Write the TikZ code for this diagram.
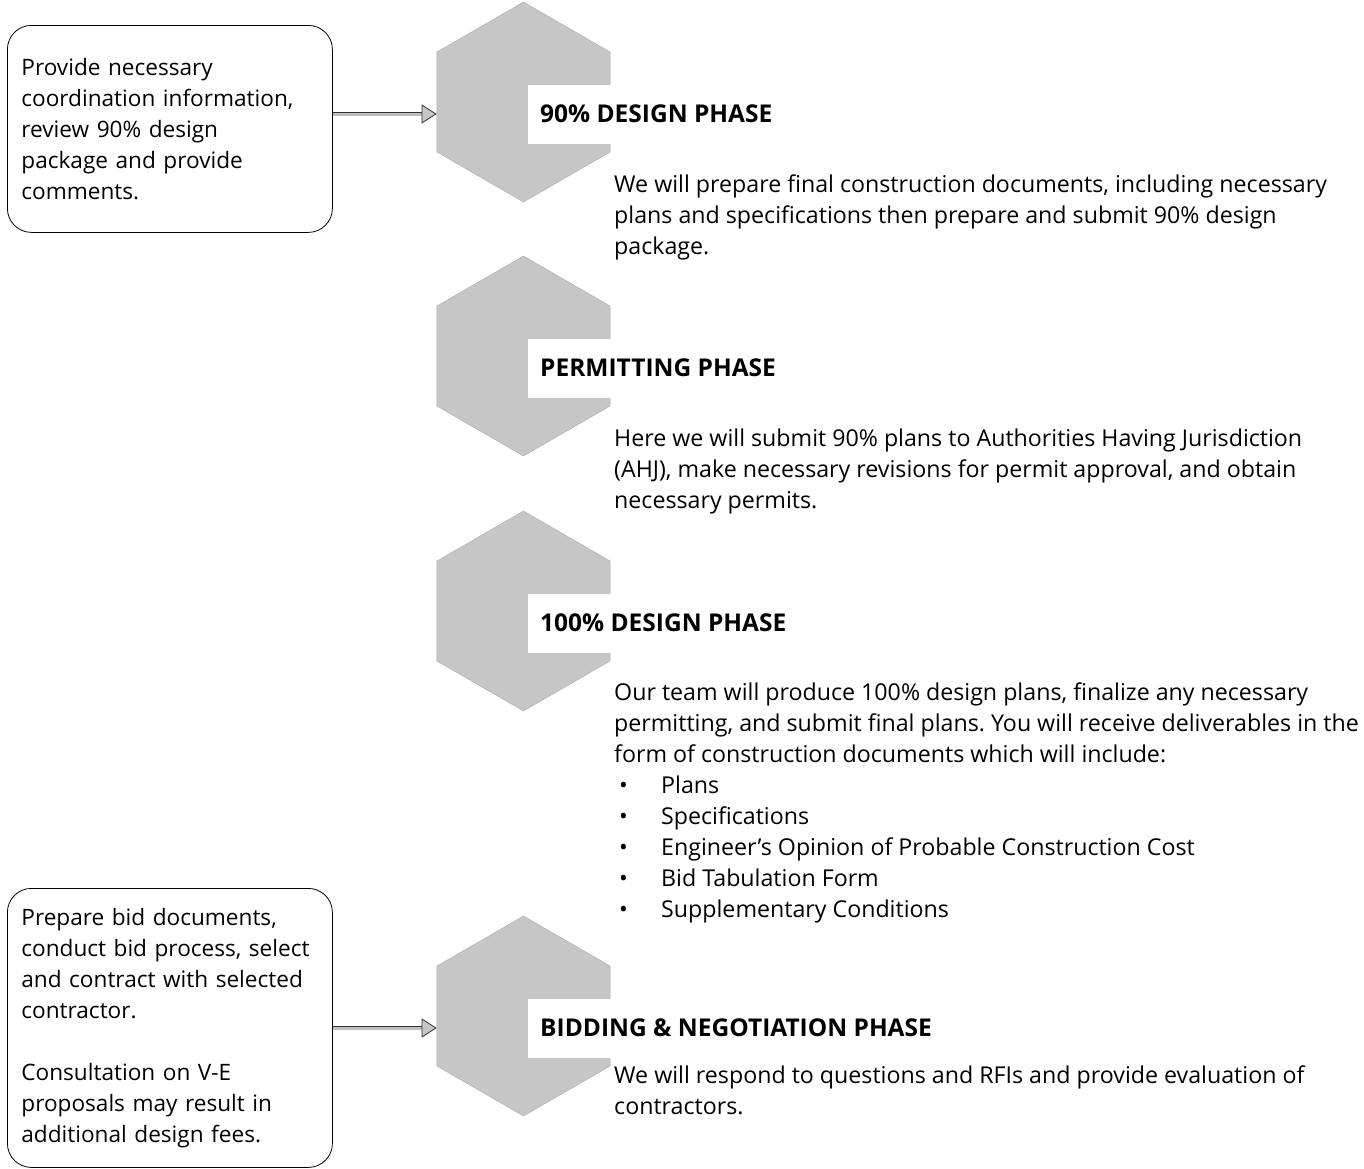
\documentclass[tikz,border=0pt]{standalone}
\usepackage{fontspec}
\setmainfont{Open Sans}
\usepackage{tikz}
\usetikzlibrary{arrows.meta,shapes.geometric}
\frenchspacing

\newcommand{\bodyfont}{\fontsize{23.2}{31}\selectfont}
\newcommand{\boxfont}{\fontsize{22.6}{31}\selectfont}
\newcommand{\bitem}[1]{\hspace*{5pt}\makebox[42pt][l]{\textbullet}#1}

\tikzset{
  phasehex/.style={regular polygon, regular polygon sides=6, shape border rotate=30,
    minimum size=200pt, inner sep=0pt, fill=gray!45, draw=gray!65},
  phasehead/.style={anchor=west, fill=white, minimum height=59pt, inner xsep=12.5pt,
    font=\fontsize{24.5}{31}\selectfont\bfseries},
  phasetext/.style={anchor=north west, inner sep=0pt, align=left, font=\bodyfont},
  clientbox/.style={anchor=north west, draw, thick, rounded corners=24pt, text width=297pt,
    inner xsep=14pt, align=left, font=\boxfont},
  handoff/.style={draw=gray!40!black, line width=0.8pt, double=gray!50, double distance=3pt,
    -{Triangle[length=15pt,width=19pt,fill=gray!45]}}
}

\begin{document}
\begin{tikzpicture}[x=1pt,y=-1pt]
\useasboundingbox (0,0) rectangle (1364,1168);

% phase hexagons
\node[phasehex] (hex90) at (523.5,102) {};
\node[phasehex] (hexpermit) at (523.5,356) {};
\node[phasehex] (hex100) at (523.5,611) {};
\node[phasehex] (hexbid) at (523.5,1016) {};

% headings (white notch)
\node[phasehead] (head90) at (527.5,114) {90\% DESIGN PHASE};
\node[phasehead] (headpermit) at (527.5,368) {PERMITTING PHASE};
\node[phasehead] (head100) at (527.5,623) {100\% DESIGN PHASE};
\node[phasehead] (headbid) at (527.5,1028) {BIDDING \& NEGOTIATION PHASE};

% descriptions
\node[phasetext] (text90) at (614,175) {We will prepare final construction documents, including necessary\\
  plans and specifications then prepare and submit 90\% design\\
  package.};
\node[phasetext] (textpermit) at (614,429) {Here we will submit 90\% plans to Authorities Having Jurisdiction\\
  (AHJ), make necessary revisions for permit approval, and obtain\\
  necessary permits.};
\node[phasetext] (text100) at (614,683) {Our team will produce 100\% design plans, finalize any necessary\\
  permitting, and submit final plans. You will receive deliverables in the\\
  form of construction documents which will include:\\
  \bitem{Plans}\\
  \bitem{Specifications}\\
  \bitem{Engineer’s Opinion of Probable Construction Cost}\\
  \bitem{Bid Tabulation Form}\\
  \bitem{Supplementary Conditions}};
\node[phasetext] (textbid) at (614,1066) {We will respond to questions and RFIs and provide evaluation of\\
  contractors.};

% client boxes
\node[clientbox, minimum height=207pt] (box90) at (7,25) {Provide necessary\\
  coordination information,\\
  review 90\% design\\
  package and provide\\
  comments.};
\node[clientbox, minimum height=279pt] (boxbid) at (7,888) {Prepare bid documents,\\
  conduct bid process, select\\
  and contract with selected\\
  contractor.\\[31pt]
  Consultation on V-E\\
  proposals may result in\\
  additional design fees.};

% hand-off arrows
\draw[handoff] (box90.east |- head90.west) -- (hex90.west |- head90.west);
\draw[handoff] (boxbid.east |- headbid.west) -- (hexbid.west |- headbid.west);
\end{tikzpicture}
\end{document}
